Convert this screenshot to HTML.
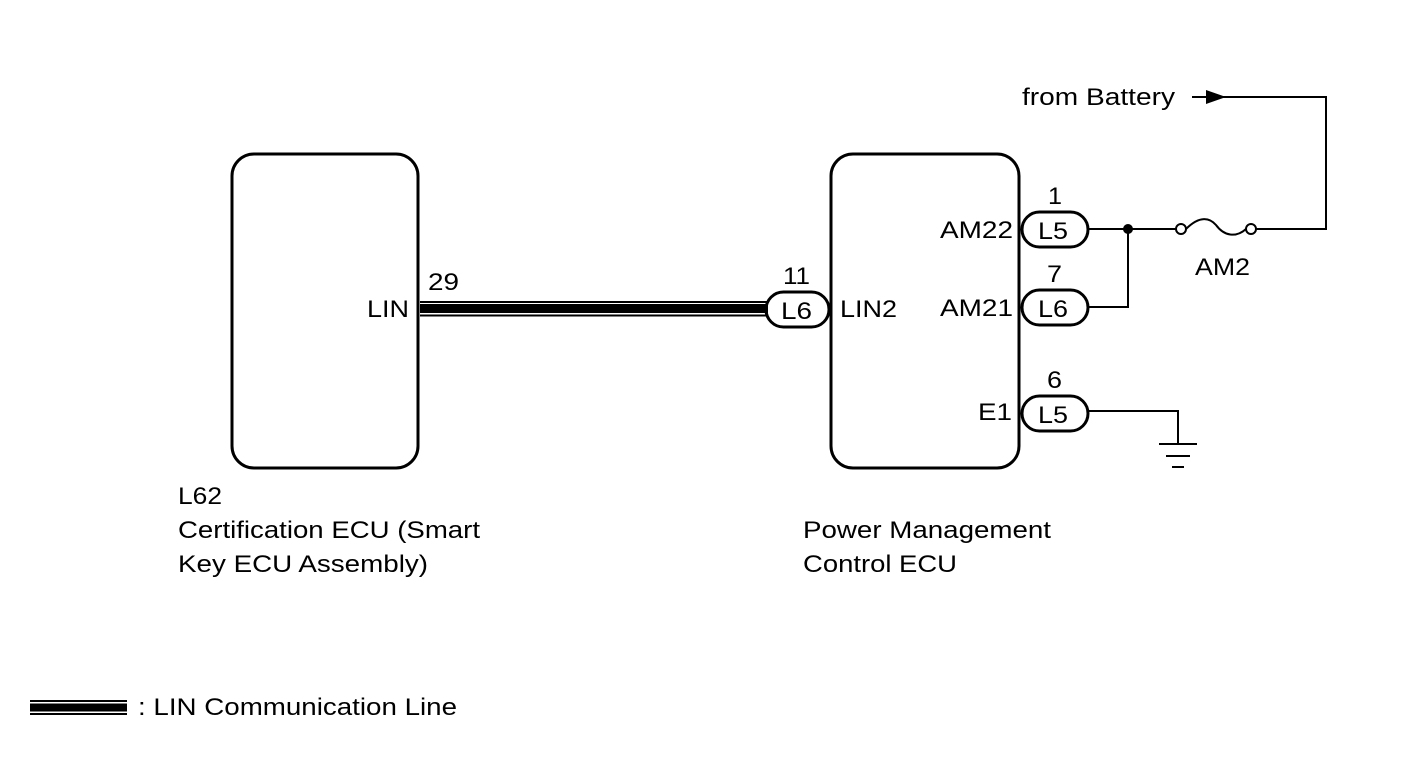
<!DOCTYPE html>
<html><head><meta charset="utf-8"><style>
html,body{margin:0;padding:0;background:#fff;}
svg{display:block;}
text{font-family:"Liberation Sans",Arial,sans-serif;font-size:24px;fill:#000;}
</style></head><body>
<svg width="1424" height="759" viewBox="0 0 1424 759" xmlns="http://www.w3.org/2000/svg">
<g fill="none" stroke="#000">
<rect x="232" y="154" width="186" height="314" rx="22" stroke-width="3"/>
<rect x="831" y="154" width="188" height="314" rx="22" stroke-width="3"/>
<line x1="420" y1="302" x2="768" y2="302" stroke-width="2"/>
<line x1="420" y1="308.5" x2="768" y2="308.5" stroke-width="9"/>
<line x1="420" y1="315.5" x2="768" y2="315.5" stroke-width="2"/>
<rect x="766" y="292" width="63" height="35" rx="17.5" stroke-width="3"/>
<rect x="1022" y="212" width="66" height="35" rx="17.5" stroke-width="3"/>
<rect x="1022" y="290" width="66" height="35" rx="17.5" stroke-width="3"/>
<rect x="1022" y="396" width="66" height="35" rx="17.5" stroke-width="3"/>
<polyline points="1088,229 1176,229" stroke-width="2"/>
<polyline points="1088,307 1128,307 1128,229" stroke-width="2"/>
<polyline points="1256,229 1326,229 1326,97 1214,97" stroke-width="2"/>
<line x1="1192" y1="97" x2="1206" y2="97" stroke-width="2"/>
<circle cx="1181" cy="229" r="5" stroke-width="2"/>
<circle cx="1251" cy="229" r="5" stroke-width="2"/>
<path d="M1186,229 C1200,215 1210,218 1216,225 C1224,236 1236,238 1246,229" stroke-width="2"/>
<polyline points="1088,411 1178,411 1178,444" stroke-width="2"/>
<line x1="1159" y1="444" x2="1197" y2="444" stroke-width="2"/>
<line x1="1166" y1="456" x2="1190" y2="456" stroke-width="2"/>
<line x1="1172" y1="467" x2="1184" y2="467" stroke-width="2"/>
<line x1="30" y1="701" x2="127" y2="701" stroke-width="2"/>
<line x1="30" y1="707.5" x2="127" y2="707.5" stroke-width="8"/>
<line x1="30" y1="714" x2="127" y2="714" stroke-width="2"/>
</g>
<circle cx="1128" cy="229" r="5" fill="#000"/>
<polygon points="1206,90 1206,104 1226,97" fill="#000"/>
<g lengthAdjust="spacingAndGlyphs">
<text x="1022" y="105" textLength="153" lengthAdjust="spacingAndGlyphs">from Battery</text>
<text x="1195" y="275" textLength="55" lengthAdjust="spacingAndGlyphs">AM2</text>
<text x="1048" y="204" textLength="14" lengthAdjust="spacingAndGlyphs">1</text>
<text x="1047" y="282" textLength="15" lengthAdjust="spacingAndGlyphs">7</text>
<text x="1047" y="388" textLength="15" lengthAdjust="spacingAndGlyphs">6</text>
<text x="783" y="284" textLength="27" lengthAdjust="spacingAndGlyphs">11</text>
<text x="428" y="290" textLength="31" lengthAdjust="spacingAndGlyphs">29</text>
<text x="367" y="317" textLength="42" lengthAdjust="spacingAndGlyphs">LIN</text>
<text x="840" y="317" textLength="57" lengthAdjust="spacingAndGlyphs">LIN2</text>
<text x="940" y="238" textLength="73" lengthAdjust="spacingAndGlyphs">AM22</text>
<text x="940" y="316" textLength="73" lengthAdjust="spacingAndGlyphs">AM21</text>
<text x="978" y="420" textLength="34" lengthAdjust="spacingAndGlyphs">E1</text>
<text x="1038" y="239" textLength="30" lengthAdjust="spacingAndGlyphs">L5</text>
<text x="1038" y="317" textLength="30" lengthAdjust="spacingAndGlyphs">L6</text>
<text x="1038" y="423" textLength="30" lengthAdjust="spacingAndGlyphs">L5</text>
<text x="781" y="319" textLength="31" lengthAdjust="spacingAndGlyphs">L6</text>
<text x="178" y="504" textLength="44" lengthAdjust="spacingAndGlyphs">L62</text>
<text x="178" y="538" textLength="302" lengthAdjust="spacingAndGlyphs">Certification ECU (Smart</text>
<text x="178" y="572" textLength="250" lengthAdjust="spacingAndGlyphs">Key ECU Assembly)</text>
<text x="803" y="538" textLength="248" lengthAdjust="spacingAndGlyphs">Power Management</text>
<text x="803" y="572" textLength="154" lengthAdjust="spacingAndGlyphs">Control ECU</text>
<text x="138" y="715" textLength="319" lengthAdjust="spacingAndGlyphs">: LIN Communication Line</text>
</g>
</svg>
</body></html>
